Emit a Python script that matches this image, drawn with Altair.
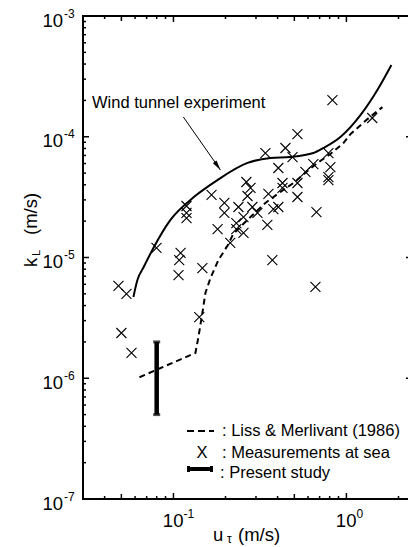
import altair as alt
import pandas as pd

FONT = "Liberation Sans, Arial, Helvetica, sans-serif"

# Wind tunnel experiment (solid curve)
wt_u = [0.0587, 0.0619, 0.0672, 0.0766, 0.0961, 0.1306, 0.1796, 0.268,
        0.364, 0.474, 0.644, 0.736, 0.923, 1.205, 1.51, 1.82]
wt_k = [4.71e-6, 6.5e-6, 8.3e-6, 1.2e-5, 2.05e-5, 3.15e-5, 4.38e-5, 6.07e-5,
        6.67e-5, 6.8e-5, 7.33e-5, 8.07e-5, 9.95e-5, 1.51e-4, 2.44e-4, 3.93e-4]

# Liss & Merlivant (1986) (dashed curve)
lm_u = [0.0636, 0.134, 0.1395, 0.147, 0.153, 0.1637, 0.182, 0.205, 0.222, 0.268,
        0.340, 0.415, 0.494, 0.595, 0.680, 0.808, 0.961, 1.055, 1.323, 1.615]
lm_k = [1.02e-6, 1.62e-6, 2.20e-6, 3.47e-6, 5.08e-6, 6.76e-6, 9.53e-6, 1.245e-5,
        1.57e-5, 2.05e-5, 2.83e-5, 3.49e-5, 4.14e-5, 5.20e-5, 6.07e-5, 7.20e-5,
        8.87e-5, 1.05e-4, 1.40e-4, 1.76e-4]

# Measurements at sea
sea_u = [0.0481, 0.0535, 0.0500, 0.0572, 0.0798, 0.110, 0.108, 0.107, 0.119, 0.119,
         0.119, 0.147, 0.141, 0.166, 0.180, 0.197, 0.197, 0.213, 0.231, 0.231,
         0.2375, 0.254, 0.254, 0.264, 0.279, 0.268, 0.286, 0.306, 0.340, 0.349,
         0.354, 0.378, 0.404, 0.373, 0.404, 0.427, 0.427, 0.444, 0.488, 0.521,
         0.521, 0.521, 0.579, 0.644, 0.671, 0.662, 0.787, 0.808, 0.787, 0.787,
         0.830, 1.41]
sea_k = [5.81e-6, 4.99e-6, 2.37e-6, 1.62e-6, 1.20e-5, 1.09e-5, 9.53e-6, 7.16e-6,
         2.67e-5, 2.34e-5, 2.12e-5, 8.18e-6, 3.21e-6, 3.30e-5, 1.72e-5, 2.83e-5,
         2.34e-5, 1.32e-5, 1.93e-5, 1.72e-5, 2.62e-5, 2.16e-5, 1.60e-5, 4.22e-5,
         3.77e-5, 3.23e-5, 2.62e-5, 2.34e-5, 7.33e-5, 1.86e-5, 3.36e-5, 2.52e-5,
         2.62e-5, 9.53e-6, 5.51e-5, 4.14e-5, 3.77e-5, 8.07e-5, 6.79e-5, 1.05e-4,
         4.14e-5, 3.17e-5, 5.11e-5, 5.94e-5, 2.38e-5, 5.70e-6, 7.33e-5, 5.61e-5,
         4.64e-5, 4.38e-5, 2.01e-4, 1.43e-4]

# Present study (range bar)
ps_u = [0.08]
ps_lo = [5e-7]
ps_hi = [2e-6]

# Annotation arrow (start, tip)
arrow_u = [0.114, 0.187]
arrow_k = [1.46e-4, 5.3e-5]

# Axis ticks and labels
x_major = [0.1, 1.0]
x_mid = [0.05, 0.5]
x_minor = [0.04, 0.06, 0.07, 0.08, 0.09, 0.2, 0.3, 0.4, 0.6, 0.7, 0.8, 0.9, 2.0]
y_major = [1e-3, 1e-4, 1e-5, 1e-6, 1e-7]
y_minor = [m * d for d in (1e-7, 1e-6, 1e-5, 1e-4) for m in range(2, 10)]
x_label_vals = [0.1, 1.0]
x_label_exps = ["-1", "0"]
y_label_vals = [1e-3, 1e-4, 1e-5, 1e-6, 1e-7]
y_label_exps = ["-3", "-4", "-5", "-6", "-7"]

W, H = 325, 483
xs = alt.Scale(type="log", domain=[0.03, 2.27], nice=False)
ys = alt.Scale(type="log", domain=[1e-7, 1e-3], nice=False)


def X(f):
    return alt.X(f, type="quantitative", scale=xs, axis=None)


def Y(f):
    return alt.Y(f, type="quantitative", scale=ys, axis=None)


one = pd.DataFrame({"a": [0]})

wt = pd.DataFrame({"u": wt_u, "k": wt_k})
lm = pd.DataFrame({"u": lm_u, "k": lm_k})
sea = pd.DataFrame({"u": sea_u, "k": sea_k})
ps = pd.DataFrame({"u": ps_u, "lo": ps_lo, "hi": ps_hi})
arr = pd.DataFrame({"u": arrow_u, "k": arrow_k, "o": [0, 1]})

layers = []

# frame: left, bottom, top
layers.append(alt.Chart(one).mark_rule(color="black", strokeWidth=2).encode(
    x=alt.value(0), y=alt.value(-1), y2=alt.value(H + 1)))
layers.append(alt.Chart(one).mark_rule(color="black", strokeWidth=2).encode(
    x=alt.value(-1), x2=alt.value(W), y=alt.value(H)))
layers.append(alt.Chart(one).mark_rule(color="black", strokeWidth=2).encode(
    x=alt.value(-1), x2=alt.value(W), y=alt.value(0)))

# inward ticks on the x axes (bottom and top)
for vals, ln in ((x_major, 6), (x_mid, 5), (x_minor, 3)):
    d = pd.DataFrame({"v": vals})
    layers.append(alt.Chart(d).mark_rule(color="black", strokeWidth=1.5).encode(
        x=X("v"), y=alt.value(H), y2=alt.value(H - ln)))
    layers.append(alt.Chart(d).mark_rule(color="black", strokeWidth=1.5).encode(
        x=X("v"), y=alt.value(0), y2=alt.value(ln)))

# inward ticks on the y axes
for vals, ln in ((y_major, 6), (y_minor, 3)):
    d = pd.DataFrame({"v": vals})
    layers.append(alt.Chart(d).mark_rule(color="black", strokeWidth=1.5).encode(
        y=Y("v"), x=alt.value(0), x2=alt.value(ln)))
layers.append(alt.Chart(pd.DataFrame({"v": y_major})).mark_rule(
    color="black", strokeWidth=1.5).encode(y=Y("v"), x=alt.value(W - 2), x2=alt.value(W)))

# tick labels: "10" with a raised exponent
ylab = pd.DataFrame({"v": y_label_vals, "e": y_label_exps})
layers.append(alt.Chart(ylab).mark_text(
    text="10", font=FONT, fontSize=18.5, align="right", baseline="alphabetic", dy=10.5
).encode(y=Y("v"), x=alt.value(-20)))
layers.append(alt.Chart(ylab).mark_text(
    font=FONT, fontSize=12, align="left", baseline="alphabetic", dy=1.5
).encode(y=Y("v"), x=alt.value(-19), text="e:N"))

xlab = pd.DataFrame({"v": x_label_vals, "e": x_label_exps})
layers.append(alt.Chart(xlab).mark_text(
    text="10", font=FONT, fontSize=18.5, align="right", baseline="alphabetic", dx=10
).encode(x=X("v"), y=alt.value(511)))
layers.append(alt.Chart(xlab).mark_text(
    font=FONT, fontSize=12, align="left", baseline="alphabetic", dx=10
).encode(x=X("v"), y=alt.value(502), text="e:N"))

# axis titles
layers.append(alt.Chart(one).mark_text(
    text="u", font=FONT, fontSize=18.5, align="left", baseline="alphabetic"
).encode(x=alt.value(130), y=alt.value(525)))
layers.append(alt.Chart(one).mark_text(
    text="τ", font=FONT, fontSize=12, align="left", baseline="alphabetic"
).encode(x=alt.value(144), y=alt.value(527)))
layers.append(alt.Chart(one).mark_text(
    text="(m/s)", font=FONT, fontSize=18.5, align="left", baseline="alphabetic"
).encode(x=alt.value(155), y=alt.value(525)))

layers.append(alt.Chart(one).mark_text(
    text="k", font=FONT, fontSize=18.5, angle=270, align="left", baseline="alphabetic"
).encode(x=alt.value(-46), y=alt.value(251)))
layers.append(alt.Chart(one).mark_text(
    text="L", font=FONT, fontSize=11, angle=270, align="left", baseline="alphabetic"
).encode(x=alt.value(-43), y=alt.value(240)))
layers.append(alt.Chart(one).mark_text(
    text="(m/s)", font=FONT, fontSize=18.5, angle=270, align="left", baseline="alphabetic"
).encode(x=alt.value(-46), y=alt.value(219)))

# data curves
layers.append(alt.Chart(wt).mark_line(color="black", strokeWidth=2, interpolate="monotone").encode(
    x=X("u"), y=Y("k")))
layers.append(alt.Chart(lm).mark_line(color="black", strokeWidth=2, strokeDash=[6, 4]).encode(
    x=X("u"), y=Y("k")))

# sea measurements as X markers
layers.append(alt.Chart(sea).mark_point(
    shape="M-1,-1L1,1M-1,1L1,-1", size=100, filled=False, color="black", strokeWidth=1.1, opacity=1
).encode(x=X("u"), y=Y("k")))

# present study bar with caps
layers.append(alt.Chart(ps).mark_rule(color="black", strokeWidth=4.5).encode(
    x=X("u"), y=Y("lo"), y2=alt.Y2("hi")))
layers.append(alt.Chart(ps).mark_tick(color="black", orient="horizontal", size=7, thickness=3).encode(
    x=X("u"), y=Y("lo")))
layers.append(alt.Chart(ps).mark_tick(color="black", orient="horizontal", size=7, thickness=3).encode(
    x=X("u"), y=Y("hi")))

# annotation
layers.append(alt.Chart(one).mark_text(
    text="Wind tunnel experiment", font=FONT, fontSize=16.5, align="left", baseline="middle"
).encode(x=alt.value(9), y=alt.value(87)))
layers.append(alt.Chart(arr).mark_line(color="black", strokeWidth=1).encode(
    x=X("u"), y=Y("k"), order="o:Q"))
layers.append(alt.Chart(arr[arr.o == 1]).mark_point(
    shape="M0,0L-0.45,-2L0.45,-2Z", size=100, filled=True, color="black", opacity=1, angle=325
).encode(x=X("u"), y=Y("k")))

# legend
layers.append(alt.Chart(one).mark_rule(color="black", strokeWidth=2, strokeDash=[7, 4]).encode(
    x=alt.value(104), x2=alt.value(131), y=alt.value(415)))
layers.append(alt.Chart(one).mark_text(
    text="X", font=FONT, fontSize=16.5, align="center", baseline="middle"
).encode(x=alt.value(119), y=alt.value(437)))
layers.append(alt.Chart(one).mark_rule(color="black", strokeWidth=4).encode(
    x=alt.value(104), x2=alt.value(130), y=alt.value(453)))
for cx in (105.5, 128.5):
    layers.append(alt.Chart(one).mark_rule(color="black", strokeWidth=3).encode(
        x=alt.value(cx), y=alt.value(450), y2=alt.value(456)))
legend_rows = [": Liss & Merlivant (1986)", ": Measurements at sea", ": Present study"]
legend_x = [139, 139, 137]
legend_y = [415, 437, 457]
for t, lx, ly in zip(legend_rows, legend_x, legend_y):
    layers.append(alt.Chart(one).mark_text(
        text=t, font=FONT, fontSize=16.5, align="left", baseline="middle"
    ).encode(x=alt.value(lx), y=alt.value(ly)))

chart = alt.layer(*layers).properties(
    width=W, height=H,
    autosize=alt.AutoSizeParams(type="none"),
    padding={"left": 83, "top": 16, "right": 0, "bottom": 48},
).configure_view(stroke=None).configure(background="white")

chart.save("out.html", embed_options={"renderer": "svg", "actions": False})
